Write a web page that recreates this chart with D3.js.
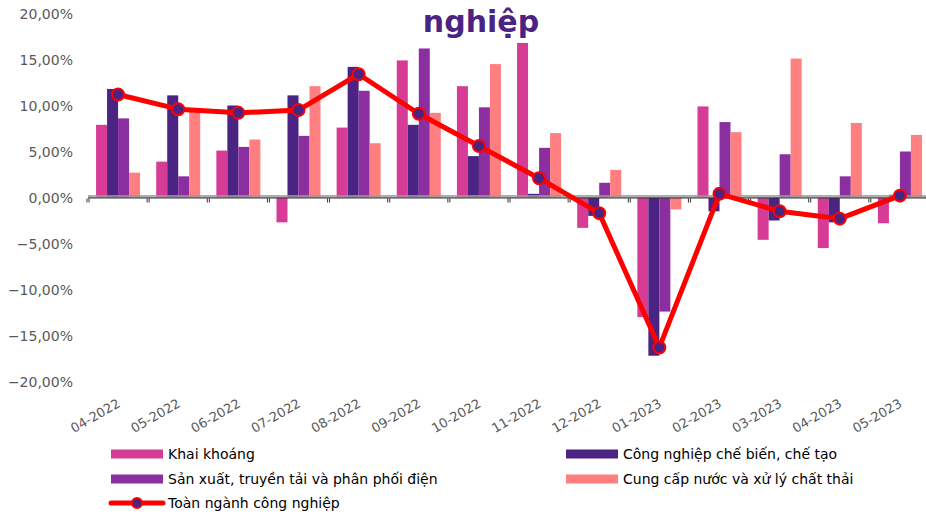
<!DOCTYPE html>
<html>
<head>
<meta charset="utf-8">
<script src="https://cdn.jsdelivr.net/npm/d3@7"></script>
<style>
  body { margin: 0; background: #fff; }
  text { font-family: "DejaVu Sans", sans-serif; }
</style>
</head>
<body>
<div id="chart"></div>
<script>
const months = ["04-2022", "05-2022", "06-2022", "07-2022", "08-2022", "09-2022", "10-2022",
                "11-2022", "12-2022", "01-2023", "02-2023", "03-2023", "04-2023", "05-2023"];

const seriesNames = ["Khai khoáng", "Công nghiệp chế biến, chế tạo",
                     "Sản xuất, truyền tải và phân phối điện", "Cung cấp nước và xử lý chất thải"];
const lineName = "Toàn ngành công nghiệp";

// values in %
const khaiKhoang = [7.9, 3.9, 5.1, -2.7, 7.6, 14.9, 12.1, 16.8, -3.3, -13.0, 9.9, -4.6, -5.5, -2.8];
const cheBien    = [11.8, 11.1, 10.0, 11.1, 14.2, 7.9, 4.5, 0.4, -2.0, -17.2, -1.5, -2.5, -2.7, 0.3];
const dien       = [8.6, 2.3, 5.5, 6.7, 11.6, 16.2, 9.8, 5.4, 1.6, -12.4, 8.2, 4.7, 2.3, 5.0];
const nuoc       = [2.7, 9.3, 6.3, 12.1, 5.9, 9.2, 14.5, 7.0, 3.0, -1.3, 7.1, 15.1, 8.1, 6.8];
const toanNganh  = [11.2, 9.6, 9.2, 9.5, 13.4, 9.1, 5.6, 2.1, -1.7, -16.3, 0.4, -1.5, -2.3, 0.2];

const yTicks = [20, 15, 10, 5, 0, -5, -10, -15, -20];
const colors = ["#d63c96", "#4b2382", "#8b2fa0", "#ff7f80"];

const width = 926, height = 515;
const seriesData = [khaiKhoang, cheBien, dien, nuoc];

const svg = d3.select("#chart").append("svg")
    .attr("width", width)
    .attr("height", height);

const x = d3.scaleBand().domain(months).range([88, 930])
    .paddingInner(0.268).paddingOuter(0.134);
const xs = d3.scaleBand().domain(d3.range(4)).range([0, x.bandwidth()]);
const y = d3.scaleLinear().domain([-20, 20]).range([381.5, 13.5]);

// title (clipped in the original)
svg.append("text")
    .attr("x", 481).attr("y", 32)
    .attr("text-anchor", "middle")
    .attr("font-size", 30).attr("font-weight", "bold")
    .attr("fill", "#4b2382")
    .text("nghiệp");

// y axis labels
svg.append("g").selectAll("text")
    .data(yTicks).enter().append("text")
    .attr("x", 73).attr("y", d => y(d))
    .attr("dy", "0.38em")
    .attr("text-anchor", "end")
    .attr("font-size", 14).attr("fill", "#595959")
    .text(d => d3.format(".2f")(d).replace(".", ",") + "%");

// bars
const groups = svg.append("g").selectAll("g")
    .data(months).enter().append("g")
    .attr("transform", d => `translate(${x(d)},0)`);

groups.selectAll("rect")
    .data((m, i) => seriesData.map((s, k) => ({ k: k, v: s[i] })))
    .enter().append("rect")
    .attr("x", d => xs(d.k))
    .attr("width", xs.bandwidth())
    .attr("y", d => y(Math.max(0, d.v)))
    .attr("height", d => Math.abs(y(d.v) - y(0)))
    .attr("fill", d => colors[d.k]);

// zero axis line
svg.append("line")
    .attr("x1", 88).attr("x2", width).attr("y1", y(0) - 1).attr("y2", y(0) - 1)
    .attr("stroke", "#9a9a9a").attr("stroke-width", 3).attr("opacity", 0.8);
svg.append("line")
    .attr("x1", 88).attr("x2", width).attr("y1", y(0) + 0.5).attr("y2", y(0) + 0.5)
    .attr("stroke", "#333").attr("stroke-width", 1);

const tickPos = months.map(m => x(m) - x.step() * x.paddingInner() / 2);
svg.append("g").selectAll("path")
    .data(tickPos).enter().append("path")
    .attr("d", d => `M${d - 1},${y(0) + 1}v4M${d + 1},${y(0) + 1}v4`)
    .attr("stroke", "#333").attr("stroke-width", 1);

// x labels
svg.append("g").selectAll("text")
    .data(months).enter().append("text")
    .attr("transform", d => `translate(${x(d) + x.bandwidth() / 2 + 3},406) rotate(-30)`)
    .attr("text-anchor", "end")
    .attr("font-size", 13).attr("fill", "#595959")
    .text(d => d);

// total line
const line = d3.line()
    .x((d, i) => x(months[i]) + x.bandwidth() / 2)
    .y(d => y(d));

svg.append("path")
    .datum(toanNganh)
    .attr("d", line)
    .attr("fill", "none")
    .attr("stroke", "#ff0000")
    .attr("stroke-width", 5)
    .attr("stroke-linejoin", "round");

svg.append("g").selectAll("circle")
    .data(toanNganh).enter().append("circle")
    .attr("cx", (d, i) => x(months[i]) + x.bandwidth() / 2)
    .attr("cy", d => y(d))
    .attr("r", 6)
    .attr("fill", "#4b2382")
    .attr("stroke", "#ff0000")
    .attr("stroke-width", 2);

// legend
const legendItems = [
    { name: seriesNames[0], color: colors[0], x: 111, y: 454 },
    { name: seriesNames[1], color: colors[1], x: 566, y: 454 },
    { name: seriesNames[2], color: colors[2], x: 111, y: 479 },
    { name: seriesNames[3], color: colors[3], x: 566, y: 479 }
];

const legend = svg.append("g");
legend.selectAll("rect")
    .data(legendItems).enter().append("rect")
    .attr("x", d => d.x).attr("y", d => d.y - 4.5)
    .attr("width", 52).attr("height", 9)
    .attr("fill", d => d.color);

legend.selectAll("text")
    .data(legendItems.concat([{ name: lineName, x: 111, y: 503 }]))
    .enter().append("text")
    .attr("x", d => d.x + 57).attr("y", d => d.y)
    .attr("dy", "0.36em")
    .attr("font-size", 14).attr("fill", "#000")
    .text(d => d.name);

legend.append("line")
    .attr("x1", 111).attr("x2", 163).attr("y1", 503).attr("y2", 503)
    .attr("stroke", "#ff0000").attr("stroke-width", 5).attr("stroke-linecap", "round");
legend.append("circle")
    .attr("cx", 137).attr("cy", 503).attr("r", 5)
    .attr("fill", "#4b2382").attr("stroke", "#ff0000").attr("stroke-width", 2);
</script>
</body>
</html>
